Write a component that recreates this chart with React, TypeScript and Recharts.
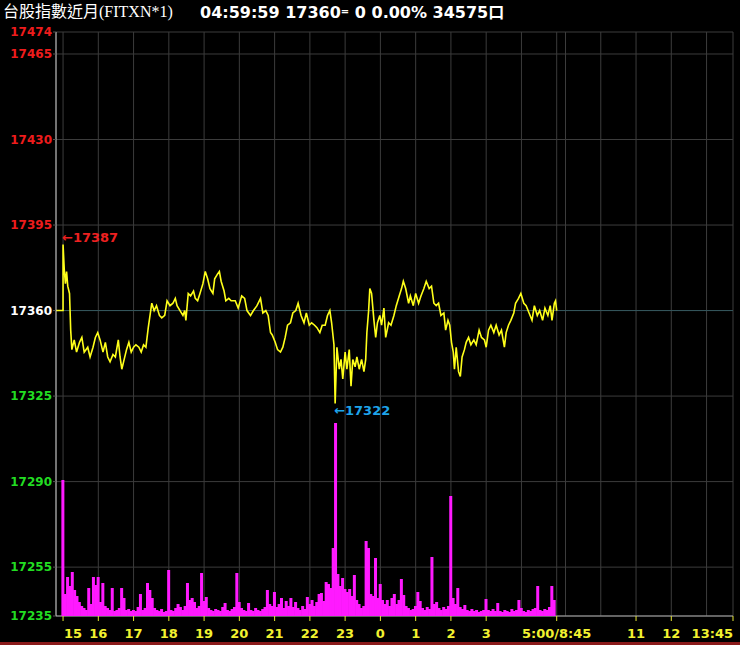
import React from 'react'
import { ComposedChart, Line, Bar, XAxis, YAxis, CartesianGrid, ReferenceLine, ReferenceDot } from 'recharts'

// minutes after 15:00; night session runs to 5:00 (840), day session 8:45 continues at 840
const priceTime = [
  -12, 0, 0, 2, 4, 6, 8, 11, 13, 15, 19, 23, 28, 32, 36, 42, 46, 51, 55, 59,
  63, 68, 72, 76, 80, 85, 89, 94, 97, 100, 104, 108, 112, 116, 120, 124, 129, 133, 137, 141,
  145, 148, 151, 155, 159, 164, 168, 173, 177, 182, 187, 191, 194, 199, 204, 207, 209, 213, 217, 222,
  225, 229, 233, 238, 242, 246, 250, 255, 258, 263, 266, 269, 274, 277, 282, 286, 293, 298, 304, 309,
  313, 319, 324, 330, 336, 340, 345, 349, 353, 356, 361, 365, 370, 374, 378, 382, 387, 391, 396, 400,
  405, 410, 414, 419, 423, 428, 432, 437, 441, 446, 450, 454, 457, 461, 463, 466, 470, 473, 476, 480,
  483, 487, 490, 493, 497, 500, 504, 508, 512, 515, 517, 520, 522, 525, 529, 532, 535, 539, 542, 546,
  549, 554, 558, 563, 567, 572, 576, 579, 583, 588, 591, 596, 600, 605, 609, 614, 618, 623, 627, 631,
  635, 639, 643, 648, 651, 655, 658, 661, 664, 666, 669, 673, 676, 679, 683, 686, 690, 694, 699, 703,
  708, 712, 717, 720, 724, 728, 733, 737, 742, 746, 751, 754, 758, 762, 767, 770, 775, 779, 784, 788,
  793, 798, 802, 807, 811, 816, 820, 825, 829, 832, 836, 838, 840,
]
const priceValue = [
  17360, 17360, 17387, 17377, 17371, 17376, 17370, 17367, 17352, 17344, 17348, 17343, 17347, 17349, 17343, 17345, 17341, 17345, 17349, 17351,
  17348, 17343, 17347, 17341, 17339, 17342, 17341, 17348, 17341, 17336, 17340, 17344, 17347, 17343, 17345, 17346, 17345, 17343, 17346, 17345,
  17353, 17358, 17363, 17360, 17362, 17358, 17357, 17358, 17364, 17362, 17363, 17365, 17362, 17360, 17358, 17360, 17356, 17367, 17366, 17368,
  17365, 17364, 17367, 17371, 17376, 17373, 17369, 17367, 17373, 17375, 17376, 17372, 17368, 17364, 17365, 17364, 17364, 17361, 17366, 17365,
  17360, 17358, 17360, 17362, 17365, 17359, 17360, 17358, 17351, 17350, 17347, 17344, 17343, 17345, 17349, 17354, 17355, 17359, 17360, 17363,
  17358, 17355, 17359, 17354, 17355, 17354, 17353, 17351, 17354, 17354, 17358, 17360, 17355, 17346, 17322, 17345, 17336, 17340, 17332, 17343,
  17336, 17344, 17329, 17340, 17337, 17341, 17336, 17340, 17335, 17340, 17351, 17360, 17369, 17367, 17356, 17349, 17355, 17358, 17354, 17361,
  17349, 17355, 17354, 17358, 17362, 17366, 17369, 17372, 17369, 17363, 17366, 17362, 17367, 17363, 17366, 17369, 17372, 17369, 17370, 17363,
  17362, 17363, 17358, 17359, 17352, 17356, 17354, 17347, 17343, 17336, 17345, 17335, 17333, 17341, 17344, 17347, 17349, 17346, 17348, 17346,
  17352, 17349, 17348, 17345, 17352, 17354, 17351, 17354, 17350, 17352, 17345, 17351, 17354, 17356, 17359, 17363, 17365, 17367, 17363, 17362,
  17359, 17356, 17362, 17358, 17360, 17356, 17361, 17358, 17362, 17356, 17363, 17364, 17360,
]

// volume per 4-minute bin, one row per hour (15:00 ... 4:00)
const volumeRows = [
  [136, 22, 39, 30, 44, 26, 20, 14, 10, 8, 6, 28, 12, 39, 31],
  [39, 14, 33, 10, 8, 6, 28, 5, 6, 8, 28, 18, 6, 7, 5],
  [6, 5, 9, 22, 6, 8, 33, 26, 18, 8, 6, 5, 7, 4, 5],
  [46, 6, 5, 8, 12, 9, 6, 10, 33, 16, 18, 14, 8, 10, 43],
  [15, 19, 8, 6, 5, 7, 6, 5, 9, 13, 6, 5, 7, 9, 43],
  [14, 8, 6, 5, 13, 6, 5, 8, 6, 5, 7, 9, 26, 12, 10],
  [24, 9, 12, 18, 8, 15, 10, 18, 9, 14, 8, 6, 10, 7, 19],
  [12, 16, 10, 14, 22, 23, 15, 34, 32, 28, 68, 193, 42, 30, 38],
  [27, 24, 27, 20, 41, 16, 12, 8, 10, 75, 68, 22, 20, 58, 18],
  [32, 16, 12, 16, 10, 18, 22, 12, 16, 37, 21, 10, 8, 6, 7],
  [10, 24, 15, 8, 6, 9, 7, 59, 12, 14, 8, 6, 9, 7, 10],
  [120, 18, 12, 28, 9, 7, 11, 6, 5, 7, 5, 6, 4, 5, 6],
  [17, 6, 5, 7, 5, 13, 5, 4, 6, 5, 4, 7, 5, 6, 16],
  [8, 5, 4, 6, 5, 7, 8, 30, 6, 5, 7, 6, 9, 30, 16],
]

const yTicks = [17235, 17255, 17290, 17325, 17360, 17395, 17430, 17465, 17474]
const xTicks = [0, 60, 120, 180, 240, 300, 360, 420, 480, 540, 600, 660, 720, 780, 840, 855, 915, 975, 1035, 1095, 1140]
const xTickLabels = ['15', '16', '17', '18', '19', '20', '21', '22', '23', '0', '1', '2', '3', '', '5:00/8:45', '', '', '11', '12', '', '13:45']

const refPrice = 17360
const highPoint = { t: 0, price: 17387 }
const lowPoint = { t: 463, price: 17322 }

const priceData = priceTime.map((t, i) => ({ t, price: priceValue[i] }))
const volumeData = volumeRows.flatMap((row, h) => row.map((vol, i) => ({ t: h * 60 + i * 4, vol })))

const W = 740
const H = 645

const PriceTick = ({ x, y, payload }: any) => {
  const v = payload.value
  const color = v > refPrice ? '#ee1c1c' : v < refPrice ? '#22dd22' : '#ffffff'
  return (
    <text x={x} y={y} dy={4} textAnchor="end" fill={color} fontSize={12} fontWeight="bold" fontFamily="DejaVu Sans">
      {v}
    </text>
  )
}

const TimeTick = ({ x, y, payload }: any) => {
  const idx = xTicks.indexOf(payload.value)
  const label = xTickLabels[idx]
  if (!label) return null
  const anchor = idx === 0 ? 'start' : idx === xTicks.length - 1 ? 'end' : 'middle'
  return (
    <g>
      <line x1={x} y1={y - 5} x2={x} y2={y} stroke="#e6e633" strokeWidth={1} />
      <text x={idx === 0 ? x + 1 : x} y={y + 17} textAnchor={anchor} fill="#f2f230" fontSize={13} fontWeight="bold" fontFamily="DejaVu Sans">
        {label}
      </text>
    </g>
  )
}

const markLabel = (text: string, color: string, dy: number) => (props: any) => {
  const { viewBox } = props
  return (
    <text x={viewBox.x - 1} y={viewBox.y + dy} fill={color} fontSize={13} fontWeight="bold" fontFamily="DejaVu Sans">
      {text}
    </text>
  )
}

// thin volume stick, a bit wider than the band so the base reads as a solid fill
const VolumeStick = (p: any) => (
  <rect x={p.x + p.width / 2 - 1.5} y={p.y} width={3} height={p.height} fill="#ff1aff" />
)

export default function App() {
  return (
    <div style={{ position: 'relative', width: W, height: H, background: '#000', overflow: 'hidden' }}>
      <style>{`body{margin:0;background:#000}`}</style>
      <div
        style={{
          position: 'absolute', left: 3, top: 0, height: 24, lineHeight: '24px', color: '#fff',
          fontSize: 16, fontFamily: '"Liberation Serif", "Noto Sans CJK TC", serif', whiteSpace: 'nowrap',
        }}
      >
        台股指數近月(FITXN*1)
      </div>
      <div
        style={{
          position: 'absolute', left: 200, top: 0, height: 24, lineHeight: '24px', color: '#fff',
          fontSize: 16, fontWeight: 'bold', fontFamily: '"DejaVu Sans", "Noto Sans CJK TC", sans-serif', whiteSpace: 'nowrap',
        }}
      >
        04:59:59 17360<span style={{ fontSize: 10, verticalAlign: 3 }}>=</span> 0 0.00% 34575口
      </div>

      <div style={{ position: 'absolute', left: 0, top: 0 }}>
        <ComposedChart width={W} height={H} data={priceData} margin={{ top: 32, right: 7, bottom: 0, left: 0 }}>
          <CartesianGrid stroke="#3c3c3c" strokeWidth={1} />
          <XAxis
            dataKey="t"
            type="number"
            domain={[-12, 1140]}
            ticks={xTicks}
            interval={0}
            height={29}
            tickSize={5}
            tickMargin={0}
            tickLine={false}
            tick={<TimeTick />}
            axisLine={{ stroke: '#a8a8a8' }}
            allowDataOverflow
          />
          <YAxis
            type="number"
            domain={[17235, 17474]}
            ticks={yTicks}
            interval={0}
            width={56}
            tickSize={3}
            tickMargin={1}
            tickLine={{ stroke: '#555' }}
            tick={<PriceTick />}
            axisLine={{ stroke: '#c8c8c8' }}
            allowDataOverflow
          />
          <ReferenceLine y={refPrice} stroke="#34575d" strokeWidth={1} />
          <Line
            type="linear"
            dataKey="price"
            stroke="#ffff1a"
            strokeWidth={1.6}
            dot={false}
            isAnimationActive={false}
          />
          <ReferenceDot x={highPoint.t} y={highPoint.price} r={0} fill="none" stroke="none" label={markLabel('←17387', '#ee2020', -3)} />
          <ReferenceDot x={lowPoint.t} y={lowPoint.price} r={0} fill="none" stroke="none" label={markLabel('←17322', '#1ea4ea', 12)} />
        </ComposedChart>
      </div>

      <div style={{ position: 'absolute', left: 0, top: 0 }}>
        <ComposedChart width={W} height={H} data={volumeData} margin={{ top: 32, right: 7, bottom: 29, left: 56 }}>
          <XAxis dataKey="t" type="number" domain={[-12, 1140]} hide allowDataOverflow />
          <YAxis type="number" domain={[0, 584]} hide allowDataOverflow />
          <Bar dataKey="vol" fill="#ff1aff" barSize={2} shape={<VolumeStick />} isAnimationActive={false} />
        </ComposedChart>
      </div>

      <div style={{ position: 'absolute', left: 0, top: 642, width: W, height: 3, background: '#8a1a1a' }} />
    </div>
  )
}
